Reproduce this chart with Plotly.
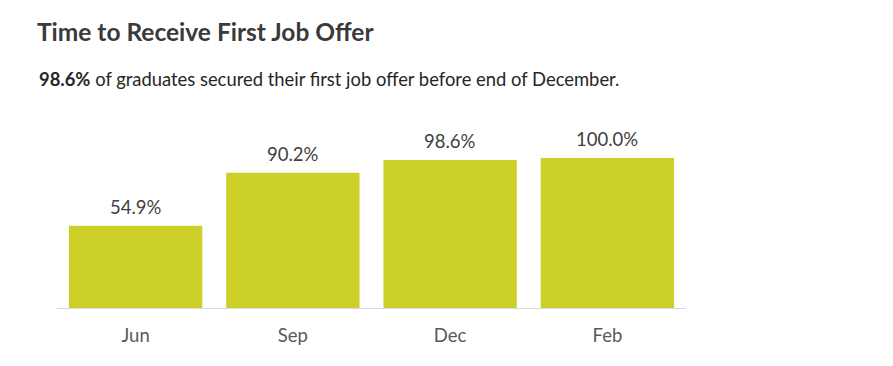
import plotly.graph_objects as go

categories = ["Jun", "Sep", "Dec", "Feb"]
values = [54.9, 90.2, 98.6, 100.0]
title_text = "Time to Receive First Job Offer"
subtitle_bold = "98.6%"
subtitle_rest = " of graduates secured their first job offer before end of December."

BAR = "#CBCF27"
FONT = "Lato"

OFF = 8  # page body margin offset
W, H = 893, 366
ml, mr, mt, mb = 57 - OFF, 215, 120, 66
ymax = 120
plot_h = H - mt - mb

fig = go.Figure()
fig.add_trace(go.Bar(
    x=categories, y=values,
    marker=dict(color=BAR, line=dict(width=0)),
    hoverinfo="skip",
))

for c, v in zip(categories, values):
    fig.add_annotation(x=c, y=v, text=f"{v:.1f}%", showarrow=False,
                       yanchor="bottom", yshift=6,
                       font=dict(family=FONT, size=18.5, color="#404040"))

def py2paper(py):
    return (H - mb - (py - OFF)) / plot_h

fig.add_annotation(xref="paper", yref="paper", x=(37 - OFF - ml) / (W - ml - mr), y=py2paper(79),
                   xanchor="left", yanchor="middle", showarrow=False,
                   text=f"<b>{subtitle_bold}</b>{subtitle_rest}",
                   font=dict(family=FONT, size=18.4, color="#262626"))

fig.update_layout(
    width=W, height=H,
    margin=dict(l=ml, r=mr, t=mt, b=mb),
    paper_bgcolor="white", plot_bgcolor="white",
    bargap=0.152,
    showlegend=False,
    title=dict(text=f"<b>{title_text}</b>", x=(37 - OFF) / W, xanchor="left",
               y=1 - (32 - OFF) / H, yanchor="middle", xref="container",
               yref="container",
               font=dict(family=FONT, size=24.5, color="#3a3a3a")),
    xaxis=dict(showline=True, linecolor="#d9d9d9", linewidth=1, showgrid=False,
               ticks="outside", ticklen=11, tickcolor="rgba(0,0,0,0)",
               tickfont=dict(family=FONT, size=18.5, color="#595959")),
    yaxis=dict(range=[0, ymax], visible=False, showgrid=False, zeroline=False),
)

fig.write_html("out.html")
